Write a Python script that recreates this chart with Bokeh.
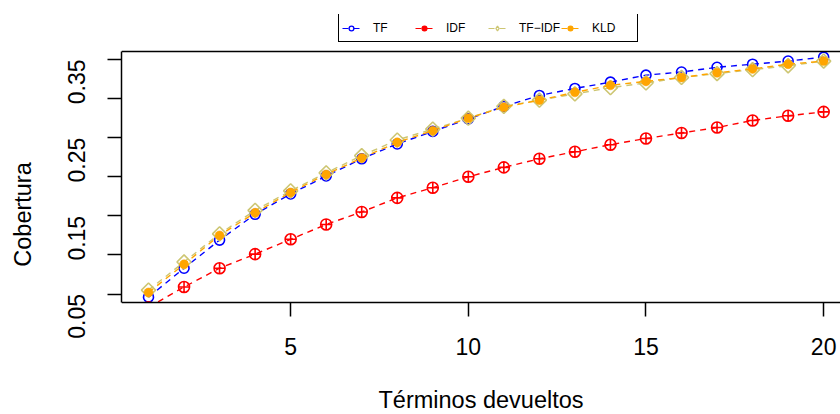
import numpy as np
from bokeh.plotting import figure
from bokeh.models import (Range1d, FixedTicker, Legend, LegendItem, Span,
                          BoxAnnotation, ColumnDataSource)
from bokeh.embed import file_html
from bokeh.resources import INLINE

# Coverage obtained for each number of returned terms
terminos = list(range(1, 21))
tf = [0.046, 0.083, 0.119, 0.152, 0.178, 0.201, 0.223, 0.242, 0.258, 0.274,
      0.290, 0.304, 0.313, 0.321, 0.330, 0.334, 0.340, 0.344, 0.348, 0.353]
idf = [0.033, 0.059, 0.083, 0.101, 0.120, 0.139, 0.155, 0.173, 0.186, 0.200,
       0.212, 0.223, 0.232, 0.241, 0.249, 0.256, 0.263, 0.272, 0.278, 0.283]
tf_idf = [0.055, 0.091, 0.127, 0.157, 0.182, 0.205, 0.227, 0.247, 0.261, 0.275,
          0.290, 0.298, 0.306, 0.314, 0.320, 0.327, 0.332, 0.337, 0.342, 0.348]
kld = [0.052, 0.088, 0.125, 0.154, 0.180, 0.203, 0.224, 0.244, 0.259, 0.275,
       0.289, 0.298, 0.308, 0.317, 0.322, 0.327, 0.333, 0.338, 0.344, 0.348]

x_ticks = [5, 10, 15, 20]
y_ticks = [0.05, 0.1, 0.15, 0.2, 0.25, 0.3, 0.35]
y_labels = {0.05: "0.05", 0.1: "", 0.15: "0.15", 0.2: "", 0.25: "0.25",
            0.3: "", 0.35: "0.35"}

FONT = "Liberation Sans"
DASH = "6 5"

# plotting box limits; the frame itself spans the whole height so that the
# legend above and the x-axis labels below are drawn inside it
Y_LO, Y_HI = 0.0391, 0.3602

src = ColumnDataSource(dict(x=terminos, tf=tf, idf=idf, tf_idf=tf_idf, kld=kld))

p = figure(width=840, height=414, output_backend="svg", toolbar_location=None,
           x_range=Range1d(0.24, 20.474), y_range=Range1d(-0.10413, 0.40757),
           min_border_left=121, min_border_right=0, min_border_top=14,
           min_border_bottom=0, x_axis_label="Términos devueltos",
           y_axis_label="Cobertura")
p.outline_line_color = None
p.grid.visible = False
p.background_fill_color = "white"
p.border_fill_color = "white"

# series: TF, IDF, TF-IDF, KLD
p.line("x", "tf", source=src, color="blue", line_width=1.4, line_dash=DASH)
p.scatter("x", "tf", source=src, marker="circle", size=10, fill_color=None,
          line_color="blue", line_width=1.6)

p.line("x", "idf", source=src, color="red", line_width=1.4, line_dash=DASH)
p.scatter("x", "idf", source=src, marker="circle_cross", size=11, fill_color=None,
          line_color="red", line_width=1.6)

p.line("x", "tf_idf", source=src, color="#CDC673", line_width=1.4, line_dash=DASH)
p.scatter("x", "tf_idf", source=src, marker="square", angle=np.pi / 4, size=10,
          fill_color=None, line_color="#CDC673", line_width=1.6)

p.line("x", "kld", source=src, color="orange", line_width=1.4, line_dash=DASH)
p.scatter("x", "kld", source=src, marker="circle", size=9, fill_color="orange",
          line_color="orange", line_width=0.5)

# hide whatever falls below the plotting box
p.add_layout(BoxAnnotation(top=Y_LO, fill_color="white", fill_alpha=1.0,
                           line_color=None, level="glyph"))

# axes
for ax in p.xaxis + p.yaxis:
    ax.axis_line_width = 1.5
    ax.major_tick_line_width = 1.5
    ax.major_tick_out = 14
    ax.major_tick_in = 0
    ax.minor_tick_line_color = None
    ax.major_label_text_font = FONT
    ax.major_label_text_font_size = "23px"
    ax.major_label_text_color = "black"
    ax.axis_label_text_font = FONT
    ax.axis_label_text_font_size = "23.5px"
    ax.axis_label_text_font_style = "normal"
    ax.axis_label_text_color = "black"

# x axis pinned to the bottom of the box
p.xaxis.ticker = FixedTicker(ticks=x_ticks)
p.xaxis.fixed_location = Y_LO
p.xaxis.major_label_standoff = 21
p.xaxis.axis_label_standoff = 29

p.yaxis.ticker = FixedTicker(ticks=y_ticks)
p.yaxis.bounds = (Y_LO, Y_HI)
p.yaxis.major_label_overrides = y_labels
p.yaxis.major_label_orientation = np.pi / 2
p.yaxis.major_label_standoff = 31
p.yaxis.axis_label_standoff = 21

# top edge of the plotting box
p.add_layout(Span(location=Y_HI, dimension="width", line_color="black",
                  line_width=1.5))

# legend symbols: hidden copies of the series with the legend's own styling
def legend_entry(col, color, marker, size, filled):
    ln = p.line("x", col, source=src, color=color, line_width=1.2,
                line_dash=DASH, visible=False)
    sc = p.scatter("x", col, source=src, marker=marker, size=size,
                   fill_color=color if filled else None, line_color=color,
                   line_width=1.3, visible=False)
    return [ln, sc]

items = [
    LegendItem(label="TF", renderers=legend_entry("tf", "blue", "circle", 6, False)),
    LegendItem(label="IDF", renderers=legend_entry("idf", "red", "circle", 7, True)),
    LegendItem(label="TF\u2212IDF",
               renderers=legend_entry("tf_idf", "#CDC673", "diamond", 9, False)),
    LegendItem(label="KLD",
               renderers=legend_entry("kld", "orange", "circle", 5, True)),
]
legend = Legend(items=items, orientation="horizontal", location=(217, 372),
                glyph_width=18, glyph_height=12, label_standoff=13,
                label_width=42, label_height=21, spacing=0, padding=3, margin=0,
                border_line_color="black", border_line_alpha=1.0,
                border_line_width=1.5, inactive_fill_alpha=0.0,
                label_text_font=FONT, label_text_font_size="12px",
                label_text_color="black",
                background_fill_color="white", background_fill_alpha=1.0)
p.add_layout(legend, "center")

open("out.html", "w").write(file_html(p, INLINE))
